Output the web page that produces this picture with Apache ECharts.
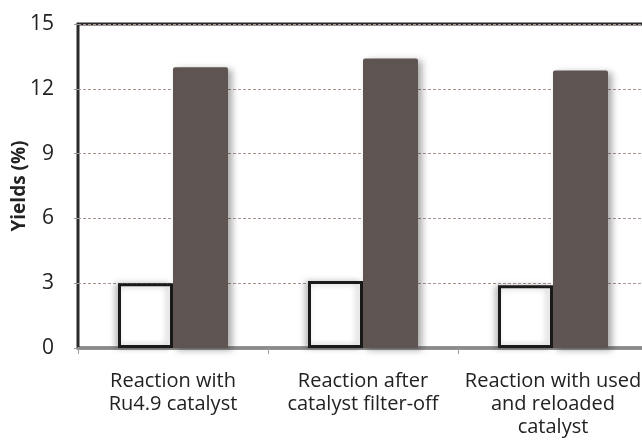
<!DOCTYPE html>
<html>
<head>
<meta charset="utf-8">
<script src="https://cdn.jsdelivr.net/npm/echarts@6/dist/echarts.min.js"></script>
<style>
  html, body { margin: 0; padding: 0; background: #fff; }
  #chart { width: 642px; height: 446px; }
</style>
</head>
<body>
<div id="chart"></div>
<script>
// data
const categories = ['Reaction with\nRu4.9 catalyst', 'Reaction after\ncatalyst filter-off', 'Reaction with used\nand reloaded\ncatalyst'];
const lightYields = [3.0, 3.1, 2.9];
const darkYields = [13.0, 13.4, 12.85];
const yTicks = [0, 3, 6, 9, 12, 15];

const font = '"Open Sans", Lato, sans-serif';

let myChart = echarts.init(document.getElementById('chart'));
let option = {
  animation: false,
  grid: {
    left: 78,
    top: 24,
    width: 570,
    height: 324,
    outerBoundsMode: 'none',
    containLabel: false,
    show: true,
    borderColor: '#2b2b2b',
    borderWidth: 3
  },
  xAxis: {
    type: 'category',
    data: categories,
    axisLine: { lineStyle: { color: '#8a8a8a', width: 2 } },
    axisTick: { show: true, length: 6, lineStyle: { color: '#999' } },
    axisLabel: {
      interval: 0,
      hideOverlap: false,
      color: '#222',
      fontSize: 20,
      fontFamily: font,
      lineHeight: 23,
      margin: 22
    }
  },
  yAxis: {
    type: 'value',
    min: yTicks[0],
    max: yTicks[yTicks.length - 1],
    interval: 3,
    name: 'Yields (%)',
    nameLocation: 'middle',
    nameGap: 49,
    nameMoveOverlap: false,
    nameTextStyle: { color: '#222', fontSize: 19, fontWeight: 'bold', fontFamily: font },
    axisLine: { show: false },
    axisTick: { show: true, length: 4, lineStyle: { color: '#999' } },
    axisLabel: { color: '#222', fontSize: 21, fontFamily: font, margin: 24 },
    splitLine: { lineStyle: { color: '#a8968f', type: [3, 2], width: 1 } }
  },
  series: [
    {
      name: 'light',
      type: 'bar',
      data: lightYields,
      barWidth: 55,
      barGap: '0%',
      itemStyle: {
        color: '#ffffff',
        borderColor: '#1a1a1a',
        borderWidth: 3,
        shadowBlur: 6,
        shadowOffsetX: -3,
        shadowColor: 'rgba(0,0,0,0.25)'
      }
    },
    {
      name: 'dark',
      type: 'bar',
      data: darkYields,
      barWidth: 55,
      barGap: '0%',
      itemStyle: {
        color: '#5e5553',
        borderRadius: [2, 2, 0, 0],
        shadowBlur: 7,
        shadowOffsetX: 4,
        shadowOffsetY: 2,
        shadowColor: 'rgba(0,0,0,0.35)'
      }
    }
  ]
};
myChart.setOption(option);
</script>
</body>
</html>
